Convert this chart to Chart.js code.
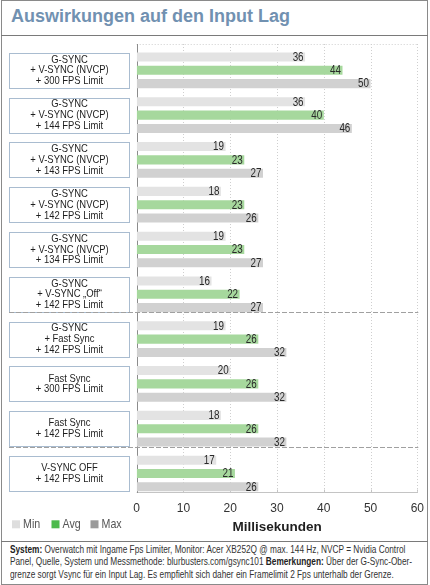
<!DOCTYPE html>
<html>
<head>
<meta charset="utf-8">
<script src="https://cdn.jsdelivr.net/npm/chart.js@4/dist/chart.umd.min.js"></script>
<style>
  html,body{margin:0;padding:0;background:#fff;}
  #page{position:relative;width:430px;height:585px;overflow:hidden;background:#fff;}
  #frame{position:absolute;left:1px;top:0;width:425px;height:583px;border:1px solid #8a8a8a;}
  #title{position:absolute;left:11px;top:6px;font:bold 18px "Liberation Sans",Arial,sans-serif;color:#7191b1;white-space:nowrap;}
  #hline1{position:absolute;left:1px;top:35px;width:427px;height:1px;background:#7a7a7a;}
  #hline2{position:absolute;left:1px;top:541px;width:427px;height:1px;background:#7a7a7a;}
  #chartWrap{position:absolute;left:0;top:36px;width:430px;height:504px;}
  #footer{position:absolute;left:10px;top:544px;font-size:10.1px;line-height:12.3px;color:#333;white-space:nowrap;transform-origin:0 0;}
  #footer b{color:#222;}
</style>
</head>
<body>
<div id="page">
  <div id="frame"></div>
  <div id="title">Auswirkungen auf den Input Lag</div>
  <div id="hline1"></div>
  <div id="chartWrap"><canvas id="c" width="430" height="504"></canvas></div>
  <div id="hline2"></div>
  <div id="footer"><b>System:</b> Overwatch mit Ingame Fps Limiter, Monitor: Acer XB252Q @ max. 144 Hz, NVCP = Nvidia Control<br>Panel, Quelle, System und Messmethode: blurbusters.com/gsync101 <b>Bemerkungen:</b> Über der G-Sync-Ober-<br>grenze sorgt Vsync für ein Input Lag. Es empfiehlt sich daher ein Framelimit 2 Fps unterhalb der Grenze.</div>
</div>
<script>
const categories = [
  ['G-SYNC', '+ V-SYNC (NVCP)', '+ 300 FPS Limit'],
  ['G-SYNC', '+ V-SYNC (NVCP)', '+ 144 FPS Limit'],
  ['G-SYNC', '+ V-SYNC (NVCP)', '+ 143 FPS Limit'],
  ['G-SYNC', '+ V-SYNC (NVCP)', '+ 142 FPS Limit'],
  ['G-SYNC', '+ V-SYNC (NVCP)', '+ 134 FPS Limit'],
  ['G-SYNC', '+ V-SYNC „Off“', '+ 142 FPS Limit'],
  ['G-SYNC', '+ Fast Sync', '+ 142 FPS Limit'],
  ['Fast Sync', '+ 300 FPS Limit'],
  ['Fast Sync', '+ 142 FPS Limit'],
  ['V-SYNC OFF', '+ 142 FPS Limit']
];
const seriesNames = ['Min', 'Avg', 'Max'];
const minValues = [36, 36, 19, 18, 19, 16, 19, 20, 18, 17];
const avgValues = [44, 40, 23, 23, 23, 22, 26, 26, 26, 21];
const maxValues = [50, 46, 27, 26, 27, 27, 32, 32, 32, 26];
const xTicks = [0, 10, 20, 30, 40, 50, 60];
const separatorsAfter = [5, 8];
const axisTitle = 'Millisekunden';

const barColors = ['#e3e3e3', '#a6d89d', '#d1d1d1'];
const legendColors = ['#dedede', '#4dba4d', '#9a9a9a'];

function hasFont(fam) {
  const cv = document.createElement('canvas').getContext('2d');
  const s = 'abcdefghijklmnopqrstuvwxyz0123456789ABCDEFGHIJ';
  cv.font = '20px monospace';
  const w1 = cv.measureText(s).width;
  cv.font = '20px "' + fam + '", monospace';
  const w2 = cv.measureText(s).width;
  return Math.abs(w1 - w2) > 0.5;
}
const NARROW = hasFont('Liberation Sans Narrow');
const condFamily = NARROW ? '"Liberation Sans Narrow"' : '"Liberation Sans", Arial';
const condScale = NARROW ? 1 : 0.82;

const footer = document.getElementById('footer');
footer.style.fontFamily = condFamily;
if (condScale !== 1) footer.style.transform = 'scaleX(' + condScale + ')';

function condText(ctx, text, x, y, size, weight, color, align) {
  ctx.save();
  ctx.font = (weight || 'normal') + ' ' + size + 'px ' + condFamily;
  ctx.fillStyle = color;
  ctx.textBaseline = 'middle';
  const w = ctx.measureText(text).width * condScale;
  let x0 = x;
  if (align === 'center') x0 = x - w / 2;
  else if (align === 'right') x0 = x - w;
  ctx.translate(x0, y);
  ctx.scale(condScale, 1);
  ctx.textAlign = 'left';
  ctx.fillText(text, 0, 0);
  ctx.restore();
}

const frameTop = 8;
const frameBottom = 456.5;

const decor = {
  id: 'decor',
  beforeDatasetsDraw(chart) {
    const ctx = chart.ctx;
    const xs = chart.scales.x;
    const left = xs.getPixelForValue(xTicks[0]);
    const right = xs.getPixelForValue(xTicks[xTicks.length - 1]);
    ctx.save();
    ctx.strokeStyle = '#cfcfcf';
    ctx.lineWidth = 1;
    ctx.setLineDash([1, 2]);
    xTicks.forEach(v => {
      const px = Math.round(xs.getPixelForValue(v)) + 0.5;
      ctx.beginPath(); ctx.moveTo(px, frameTop); ctx.lineTo(px, frameBottom); ctx.stroke();
    });
    ctx.beginPath(); ctx.moveTo(left, frameTop + 0.5); ctx.lineTo(right, frameTop + 0.5); ctx.stroke();
    ctx.setLineDash([]);
    ctx.strokeStyle = '#c4c4c4';
    ctx.beginPath(); ctx.moveTo(left, frameBottom); ctx.lineTo(Math.round(right) + 1, frameBottom); ctx.stroke();
    xTicks.forEach(v => {
      const px = Math.round(xs.getPixelForValue(v)) + 0.5;
      ctx.beginPath(); ctx.moveTo(px, frameBottom); ctx.lineTo(px, frameBottom - 3); ctx.stroke();
    });
    ctx.strokeStyle = '#8c8c8c';
    const lx = Math.round(left) + 0.5;
    ctx.beginPath(); ctx.moveTo(lx, frameTop); ctx.lineTo(lx, frameBottom + 0.5); ctx.stroke();
    ctx.restore();
  },
  afterDatasetsDraw(chart) {
    const ctx = chart.ctx;
    const ys = chart.scales.y;
    const xs = chart.scales.x;
    chart.data.datasets.forEach((ds, di) => {
      const meta = chart.getDatasetMeta(di);
      meta.data.forEach((bar, i) => {
        condText(ctx, String(ds.data[i]), bar.x - 1.5, bar.y + 0.5, 12, 'normal', '#2a2a2a', 'right');
      });
    });
    ctx.save();
    categories.forEach((lines, i) => {
      const cy = ys.getPixelForValue(i);
      ctx.strokeStyle = '#a9bcd0';
      ctx.lineWidth = 1;
      ctx.strokeRect(9.5, Math.round(cy - 17.5) + 0.5, 120, 35);
      const lh = 10.8;
      const start = cy - (lines.length - 1) * lh / 2;
      lines.forEach((t, k) => {
        condText(ctx, t, 69.5, start + k * lh, 11.5, 'normal', '#1e1e1e', 'center');
      });
    });
    ctx.restore();
    ctx.save();
    ctx.strokeStyle = '#a0a0a0';
    ctx.lineWidth = 1;
    ctx.setLineDash([5, 2]);
    const right = xs.getPixelForValue(xTicks[xTicks.length - 1]);
    separatorsAfter.forEach(i => {
      const y = Math.round((ys.getPixelForValue(i) + ys.getPixelForValue(i + 1)) / 2 - 4.5) + 0.5;
      ctx.beginPath(); ctx.moveTo(9, y); ctx.lineTo(right + 1, y); ctx.stroke();
    });
    ctx.restore();
    ctx.save();
    ctx.strokeStyle = '#cfcfcf';
    ctx.setLineDash([1, 2]);
    const rx = Math.round(right) + 0.5;
    ctx.beginPath(); ctx.moveTo(rx, frameTop); ctx.lineTo(rx, frameBottom); ctx.stroke();
    ctx.restore();
    const lgX = [12, 51.5, 90.5];
    const lgY = 488.3;
    seriesNames.forEach((n, k) => {
      ctx.fillStyle = legendColors[k];
      ctx.fillRect(lgX[k], lgY - 4, 8, 8);
      condText(ctx, n, lgX[k] + 11, lgY, 13, 'normal', '#555', 'left');
    });
  }
};

new Chart(document.getElementById('c'), {
  type: 'bar',
  data: {
    labels: categories,
    datasets: [
      { label: seriesNames[0], data: minValues, backgroundColor: barColors[0] },
      { label: seriesNames[1], data: avgValues, backgroundColor: barColors[1] },
      { label: seriesNames[2], data: maxValues, backgroundColor: barColors[2] }
    ]
  },
  options: {
    indexAxis: 'y',
    responsive: false,
    animation: false,
    devicePixelRatio: 1,
    datasets: { bar: { categoryPercentage: 0.893, barPercentage: 0.68, borderWidth: 0 } },
    layout: { padding: { left: 136.7, right: 11.3, top: 11.9, bottom: 0 } },
    plugins: { legend: { display: false }, tooltip: { enabled: false } },
    scales: {
      x: {
        min: xTicks[0], max: xTicks[xTicks.length - 1],
        afterBuildTicks: s => { s.ticks = xTicks.map(v => ({ value: v })); },
        ticks: { color: '#333', font: { family: '"Liberation Sans", Arial', size: 12 }, padding: 6 },
        grid: { display: false, drawTicks: false },
        border: { display: false },
        title: { display: true, text: axisTitle, color: '#1e1e1e', font: { family: '"Liberation Sans", Arial', size: 13.5, weight: 'bold' }, padding: { top: 0, bottom: 5 } },
        afterFit: s => { s.height = 44.1; }
      },
      y: { display: false, offset: true }
    }
  },
  plugins: [decor]
});
</script>
</body>
</html>
